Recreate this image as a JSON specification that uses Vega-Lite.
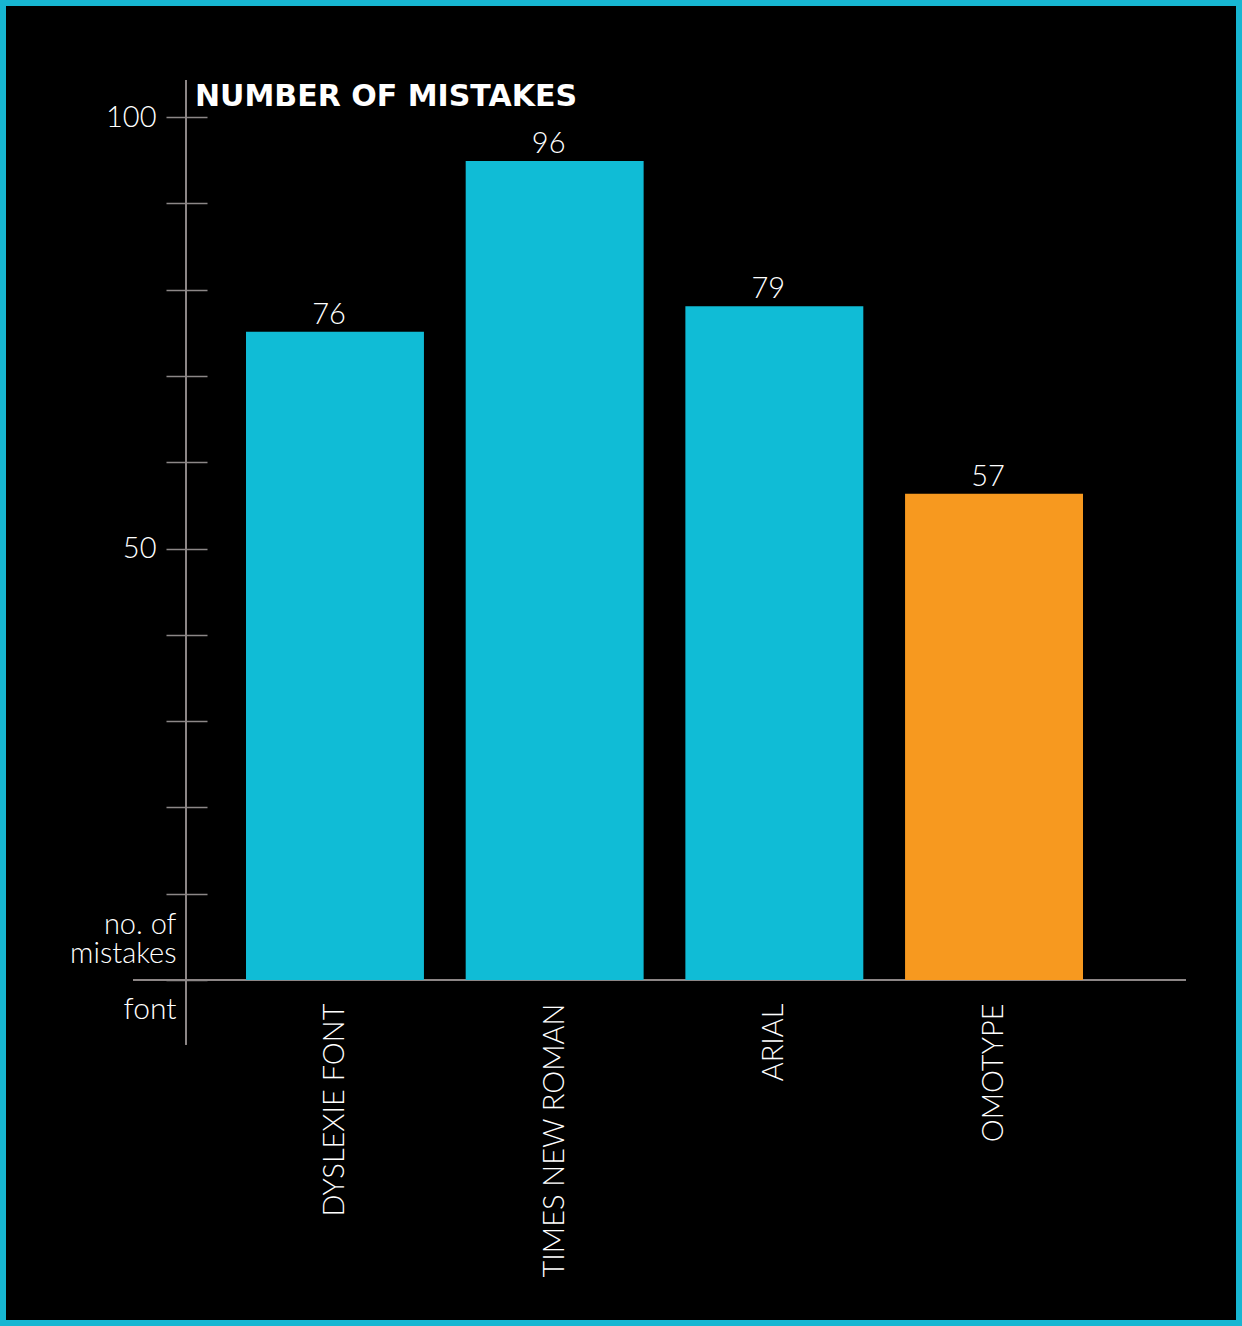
{
  "$schema": "https://vega.github.io/schema/vega-lite/v6.json",
  "autosize": "none",
  "padding": 0,
  "width": 1242,
  "height": 1326,
  "background": "#000000",
  "config": {
    "view": {"stroke": "#17b6d2", "strokeWidth": 12, "fill": "#000000"},
    "font": "Lato",
    "axis": {"labelFont": "Lato", "titleFont": "Lato"}
  },
  "title": {
    "text": "NUMBER OF MISTAKES",
    "anchor": "start",
    "frame": "group",
    "orient": "top",
    "baseline": "alphabetic",
    "offset": -136,
    "dx": 195,
    "font": "DejaVu Sans",
    "fontSize": 30,
    "fontWeight": "bold",
    "color": "#ffffff"
  },
  "data": {
    "values": [
      {"font": "DYSLEXIE FONT", "mistakes": 76},
      {"font": "TIMES NEW ROMAN", "mistakes": 96},
      {"font": "ARIAL", "mistakes": 79},
      {"font": "OMOTYPE", "mistakes": 57}
    ]
  },
  "layer": [
    {
      "mark": {"type": "rule", "color": "#8c8787", "strokeWidth": 1.5},
      "encoding": {
        "x": {"datum": 0, "type": "quantitative", "scale": {"domain": [0, 1], "range": [186, 1186]}, "axis": null},
        "y": {
          "datum": -7.5,
          "type": "quantitative",
          "scale": {"domain": [0, 100], "range": [980, 117]},
          "axis": {
            "orient": "left",
            "offset": -207,
            "domain": false,
            "grid": false,
            "values": [0, 10, 20, 30, 40, 50, 60, 70, 80, 90, 100],
            "labelExpr": "datum.value == 50 || datum.value == 100 ? datum.label : ''",
            "tickSize": 41,
            "tickColor": "#8c8787",
            "tickWidth": 1.5,
            "labelPadding": 10,
            "labelFontSize": 29,
            "labelFontWeight": 300,
            "labelColor": "#ffffff",
            "title": ["no. of", "mistakes"],
            "titleAngle": 0,
            "titleAlign": "right",
            "titleBaseline": "alphabetic",
            "titleX": -31,
            "titleY": 933,
            "titleLineHeight": 29,
            "titleFontSize": 29,
            "titleFontWeight": 300,
            "titleColor": "#ffffff"
          }
        },
        "y2": {"datum": 104.3}
      }
    },
    {
      "mark": {"type": "rule", "color": "#8c8787", "strokeWidth": 1.5},
      "encoding": {
        "x": {"datum": -0.053, "type": "quantitative", "scale": {"domain": [0, 1], "range": [186, 1186]}, "axis": null},
        "x2": {"datum": 1},
        "y": {"datum": 0, "type": "quantitative", "scale": {"domain": [0, 100], "range": [980, 117]}, "axis": null}
      }
    },
    {
      "mark": {"type": "bar"},
      "encoding": {
        "x": {
          "field": "font",
          "type": "nominal",
          "sort": null,
          "scale": {"type": "band", "range": [246, 1083], "paddingInner": 0.19, "paddingOuter": 0},
          "axis": {
            "orient": "bottom",
            "offset": -331,
            "domain": false,
            "ticks": false,
            "tickSize": 0,
            "grid": false,
            "labelAngle": -90,
            "labelPadding": 8,
            "labelLimit": 0,
            "labelFontSize": 29,
            "labelFontWeight": 300,
            "labelColor": "#ffffff",
            "title": "font",
            "titleAlign": "right",
            "titleBaseline": "alphabetic",
            "titleAngle": 0,
            "titleX": 176,
            "titleY": 23,
            "titleFontSize": 30,
            "titleFontWeight": 300,
            "titleColor": "#ffffff"
          }
        },
        "y": {"field": "mistakes", "type": "quantitative", "scale": {"domain": [0, 100], "range": [980, 127]}, "axis": null},
        "color": {
          "condition": {"test": "datum.font === 'OMOTYPE'", "value": "#f7991f"},
          "value": "#10bcd6"
        }
      }
    },
    {
      "mark": {"type": "text", "baseline": "alphabetic", "dy": -8, "dx": -6, "fontSize": 29, "fontWeight": 300, "color": "#ffffff"},
      "encoding": {
        "x": {
          "field": "font",
          "type": "nominal",
          "sort": null,
          "bandPosition": 0.5,
          "scale": {"type": "band", "range": [246, 1083], "paddingInner": 0.19, "paddingOuter": 0},
          "axis": null
        },
        "y": {"field": "mistakes", "type": "quantitative", "scale": {"domain": [0, 100], "range": [980, 127]}, "axis": null},
        "text": {"field": "mistakes", "type": "quantitative"}
      }
    }
  ],
  "resolve": {"scale": {"x": "independent", "y": "independent"}}
}
